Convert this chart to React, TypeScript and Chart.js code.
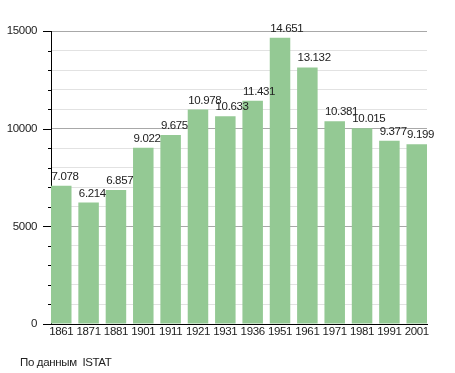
import React, { useEffect, useRef } from "react";
import { Chart, registerables } from "chart.js";

Chart.register(...registerables);

const years = ["1861", "1871", "1881", "1901", "1911", "1921", "1931", "1936", "1951", "1961", "1971", "1981", "1991", "2001"];
const population = [7078, 6214, 6857, 9022, 9675, 10978, 10633, 11431, 14651, 13132, 10381, 10015, 9377, 9199];
const valueLabels = ["7.078", "6.214", "6.857", "9.022", "9.675", "10.978", "10.633", "11.431", "14.651", "13.132", "10.381", "10.015", "9.377", "9.199"];
const yMajorTicks = [0, 5000, 10000, 15000];
const sourceText = "По данным  ISTAT";

const FONT = '"Liberation Sans", Arial, sans-serif';
const SPACING = "-0.35px";

export default function App() {
  const ref = useRef<HTMLCanvasElement>(null);
  useEffect(() => {
    const canvas = ref.current!;
    const extras = {
      id: "extras",
      beforeUpdate(chart: any) {
        chart.ctx.letterSpacing = SPACING;
      },
      beforeDraw(chart: any) {
        chart.ctx.letterSpacing = SPACING;
      },
      afterDraw(chart: any) {
        const ctx = chart.ctx;
        const y = chart.scales.y;
        const area = chart.chartArea;
        ctx.save();
        ctx.strokeStyle = "#000";
        ctx.lineWidth = 1;
        for (let v = 0; v <= 15000; v += 1000) {
          const py = Math.round(y.getPixelForValue(v)) + 0.5;
          const len = yMajorTicks.includes(v) ? 8 : 3;
          ctx.beginPath();
          ctx.moveTo(area.left - len, py);
          ctx.lineTo(area.left, py);
          ctx.stroke();
        }
        ctx.fillStyle = "#222";
        ctx.font = "11.5px " + FONT;
        ctx.letterSpacing = SPACING;
        ctx.textAlign = "left";
        ctx.textBaseline = "alphabetic";
        const meta = chart.getDatasetMeta(0);
        meta.data.forEach((bar: any, i: number) => {
          ctx.fillText(valueLabels[i], bar.x - bar.width / 2 + 0.5, bar.y - 6);
        });
        ctx.fillText(sourceText, 20, 366);
        ctx.restore();
      },
    };
    const chart = new Chart(canvas, {
      type: "bar",
      data: {
        datasets: [
          {
            data: population.map((v, i) => ({ x: i, y: v })),
            backgroundColor: "#94c994",
            borderWidth: 0,
            barPercentage: 0.75,
            categoryPercentage: 1,
          },
        ],
      },
      options: {
        responsive: false,
        animation: false,
        layout: { padding: { left: 0, right: 28, top: 31, bottom: 29 } },
        plugins: { legend: { display: false }, tooltip: { enabled: false }, title: { display: false } },
        scales: {
          x: {
            type: "linear",
            min: -0.375,
            max: 13.375,
            offset: false,
            afterBuildTicks: (scale: any) => {
              scale.ticks = years.map((_, i) => ({ value: i }));
            },
            afterFit: (scale: any) => {
              scale.height = 20;
            },
            ticks: {
              autoSkip: false,
              maxRotation: 0,
              padding: 1,
              color: "#222",
              font: { family: FONT, size: 11.5 },
              callback: (v: any) => years[v as number] ?? "",
            },
            grid: { display: false, drawTicks: false },
            border: { display: true, color: "#000", width: 1 },
          },
          y: {
            min: 0,
            max: 15000,
            afterFit: (scale: any) => {
              scale.width = 51;
            },
            ticks: {
              stepSize: 1000,
              padding: 14,
              color: "#222",
              font: { family: FONT, size: 11.5 },
              autoSkip: false,
              callback: (v: any) => (yMajorTicks.includes(v as number) ? String(v) : ""),
            },
            grid: {
              drawTicks: false,
              color: (c: any) => (c.tick && c.tick.value % 5000 === 0 ? "#a8a8a8" : "#e2e2e2"),
            },
            border: { display: true, color: "#000", width: 1 },
          },
        },
      },
      plugins: [extras],
    });
    return () => chart.destroy();
  }, []);
  return (
    <div style={{ position: "fixed", left: 0, top: 0, width: 455, height: 373, background: "#fff" }}>
      <canvas ref={ref} width={455} height={373} style={{ display: "block", width: 455, height: 373 }} />
    </div>
  );
}
